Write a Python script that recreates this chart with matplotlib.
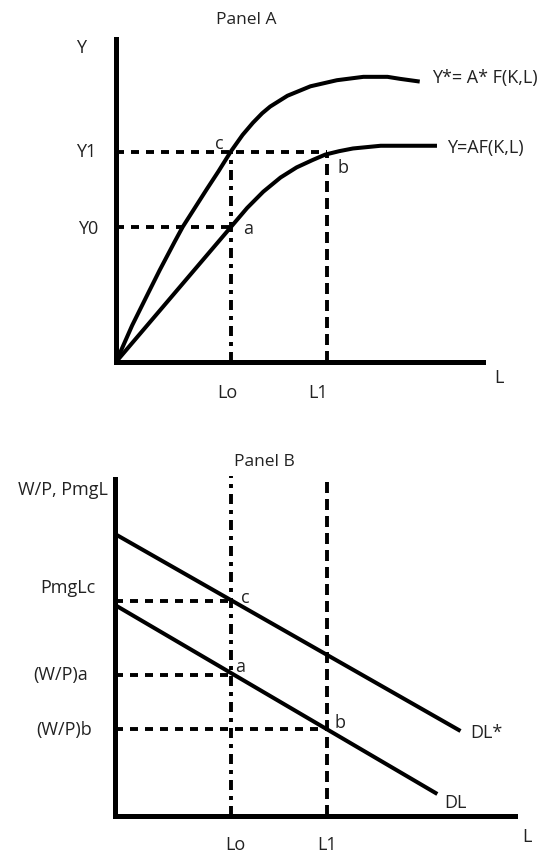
import matplotlib
matplotlib.use("Agg")
import matplotlib.pyplot as plt

plt.rcParams['font.family'] = ['Open Sans', 'DejaVu Sans']
plt.rcParams['lines.scale_dashes'] = False

# ---------------- Panel A data (production functions) ----------------
L_star = [0, 1.4, 2.8, 3.8, 5.1, 5.8, 7.0, 7.9, 8.9, 10, 11.0, 11.9, 12.7, 13.4, 14.9, 16.9, 19.2, 21.5, 23.6, 24.7, 26.4]
Y_star = [0, 2.7, 5.1, 6.8, 8.9, 10.0, 11.6, 12.8, 14.1, 15.6, 16.8, 17.7, 18.4, 18.9, 19.7, 20.4, 20.85, 21.1, 21.1, 20.95, 20.75]
L_base = [0, 4.1, 10, 11.4, 12.8, 14.3, 15.7, 17.1, 18.2, 19.4, 20.6, 23.0, 27.9]
Y_base = [0, 4.1, 10, 11.4, 12.6, 13.65, 14.4, 14.95, 15.35, 15.6, 15.8, 16.0, 16.0]
L_o, L_1 = 10.0, 18.3
Y_0, Y_1 = 10.0, 15.56

# ---------------- Panel B data (labour demand) ----------------
DLstar_L = [0, 29.8]
DLstar_W = [28.2, 8.5]
DL_L = [0, 27.8]
DL_W = [21.1, 2.2]
W_c, W_a, W_b = 21.5, 14.1, 8.7

W, H = 552, 853
fig = plt.figure(figsize=(W / 100, H / 100), dpi=100)
fig.patch.set_facecolor('white')

TXT = '#222222'
FS = 13
LW_AX = 3.6
LW_C = 2.9
LW_D = 2.8
px = 0.72  # pixel -> points at dpi 100
DASH_H = (0, (8 * px, 7 * px))
DASH_DOT = (0, (10 * px, 6 * px, 4 * px, 6 * px))
DASH_L = (0, (11 * px, 6 * px))


def make_ax(x0, y_origin, w, h):
    ax = fig.add_axes([x0 / W, (H - y_origin) / H, w / W, h / H])
    ax.set_facecolor('none')
    for s in ['top', 'right']:
        ax.spines[s].set_visible(False)
    for s in ['left', 'bottom']:
        ax.spines[s].set_linewidth(LW_AX)
        ax.spines[s].set_color('black')
        ax.spines[s].set_capstyle('projecting')
    ax.set_xticks([])
    ax.set_yticks([])
    return ax


def label(ax, x, y, s, ha='center', fs=FS):
    ax.text(x, y, s, fontsize=fs, color=TXT, ha=ha, va='center', clip_on=False)


# ---------------- Panel A ----------------
axA = make_ax(116, 363, 367, 323)
axA.set_xlim(0, 31.9)
axA.set_ylim(0, 23.9)

axA.plot(L_star, Y_star, color='black', lw=LW_C, solid_joinstyle='round',
         solid_capstyle='butt', clip_on=False)
axA.plot(L_base, Y_base, color='black', lw=LW_C, solid_joinstyle='round',
         solid_capstyle='butt', clip_on=False)

axA.plot([0, L_1], [Y_1, Y_1], color='black', lw=LW_D, linestyle=DASH_H)
axA.plot([0, L_o], [Y_0, Y_0], color='black', lw=LW_D, linestyle=DASH_H)
axA.plot([L_o, L_o], [0, Y_1], color='black', lw=LW_D, linestyle=DASH_DOT)
axA.plot([L_1, L_1], [0, 15.3], color='black', lw=LW_D, linestyle=DASH_L)

label(axA, 11.3, 25.4, 'Panel A', fs=12.5)
label(axA, -3.0, 23.3, 'Y')
label(axA, -2.6, 15.6, 'Y1')
label(axA, -2.4, 9.9, 'Y0')
label(axA, 9.0, 16.2, 'c')
label(axA, 11.5, 9.9, 'a')
label(axA, 19.7, 14.4, 'b')
label(axA, 27.5, 21.1, 'Y*= A* F(K,L)', ha='left')
label(axA, 28.8, 15.9, 'Y=AF(K,L)', ha='left')
label(axA, 9.65, -2.2, 'Lo')
label(axA, 17.6, -2.2, 'L1')
label(axA, 33.3, -1.1, 'L')

# ---------------- Panel B ----------------
axB = make_ax(115, 817, 400, 337)
axB.set_xlim(0, 34.5)
axB.set_ylim(0, 33.7)

axB.plot(DLstar_L, DLstar_W, color='black', lw=LW_C, solid_capstyle='butt', clip_on=False)
axB.plot(DL_L, DL_W, color='black', lw=LW_C, solid_capstyle='butt', clip_on=False)

axB.plot([0, L_o], [W_c, W_c], color='black', lw=LW_D, linestyle=DASH_H)
axB.plot([0, L_o], [W_a, W_a], color='black', lw=LW_D, linestyle=DASH_H)
axB.plot([0, L_1], [W_b, W_b], color='black', lw=LW_D, linestyle=DASH_H)
axB.plot([L_o, L_o], [0, 34.0], color='black', lw=LW_D, linestyle=DASH_DOT, clip_on=False)
axB.plot([L_1, L_1], [0, 34.0], color='black', lw=LW_D, linestyle=DASH_L, clip_on=False)

label(axB, 12.9, 35.5, 'Panel B', fs=12.5)
label(axB, -4.5, 32.7, 'W/P, PmgL')
label(axB, -4.05, 22.9, 'PmgLc')
label(axB, -4.7, 14.2, '(W/P)a')
label(axB, -4.4, 8.7, '(W/P)b')
label(axB, 11.2, 21.9, 'c')
label(axB, 10.8, 15.0, 'a')
label(axB, 19.4, 9.4, 'b')
label(axB, 30.6, 8.4, 'DL*', ha='left')
label(axB, 28.4, 1.4, 'DL', ha='left')
label(axB, 35.5, -2.0, 'L')
label(axB, 10.4, -2.8, 'Lo')
label(axB, 18.3, -2.8, 'L1')

fig.savefig('out.png', dpi=100, facecolor='white')
